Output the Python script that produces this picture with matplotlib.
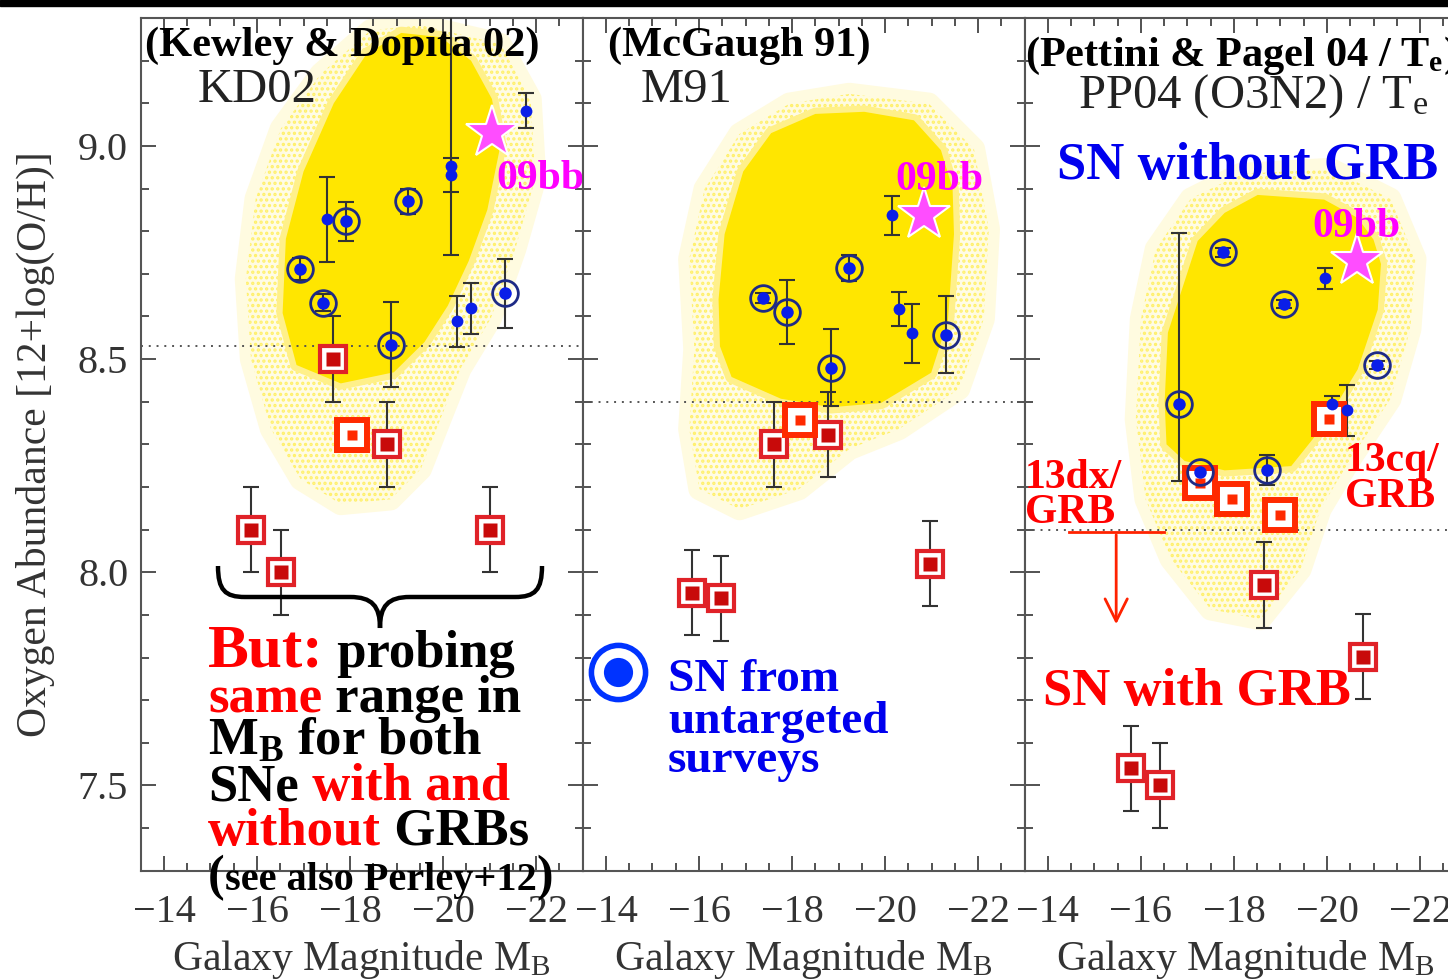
import numpy as np
import matplotlib
matplotlib.use("Agg")
import matplotlib.pyplot as plt
from matplotlib.patches import Polygon, PathPatch, Rectangle
from matplotlib.path import Path
from matplotlib.ticker import MultipleLocator

plt.rcParams['font.family'] = ['Liberation Serif', 'DejaVu Serif']
plt.rcParams['mathtext.fontset'] = 'custom'
plt.rcParams['mathtext.rm'] = 'Liberation Serif'
plt.rcParams['mathtext.bf'] = 'Liberation Serif:bold'
plt.rcParams['mathtext.it'] = 'Liberation Serif:italic'
plt.rcParams['hatch.linewidth'] = 1.6

# --- KD02 panel ---
kd_circ_x = [-19.25, -17.91, -16.92, -17.41, -18.87, -21.32]
kd_circ_y = [8.87, 8.823, 8.711, 8.632, 8.534, 8.654]
kd_circ_err = [0.03, 0.045, 0.025, 0.02, 0.10, 0.08]
kd_dot_x = [-21.79, -20.16, -20.16, -17.51, -20.30, -20.60]
kd_dot_y = [9.083, 8.953, 8.931, 8.828, 8.589, 8.619]
kd_dot_lo = [0.04, 0.21, 0.04, 0.10, 0.06, 0.06]
kd_dot_hi = [0.04, 0.40, 0.04, 0.10, 0.06, 0.06]
kd_grb_x = [-17.63, -18.80, -15.87, -16.51, -21.00]
kd_grb_y = [8.50, 8.30, 8.10, 8.00, 8.10]
kd_grb_err = [0.10, 0.10, 0.10, 0.10, 0.10]
kd_new_x = [-18.05]
kd_new_y = [8.322]
kd_star = (-21.05, 9.03)
kd_cut = 8.53
kd_core_x = [-19.10, -19.95, -20.60, -21.05, -21.23, -20.95, -20.55, -20.10, -19.60,
             -18.94, -17.80, -16.85, -16.55, -16.62, -17.00, -17.65, -18.35]
kd_core_y = [9.265, 9.255, 9.200, 9.110, 9.000, 8.850, 8.730, 8.625, 8.540,
             8.469, 8.443, 8.486, 8.608, 8.782, 8.940, 9.100, 9.215]
kd_halo_x = [-19.52, -21.23, -21.88, -21.98, -21.55, -21.02, -20.37, -19.94, -19.52,
             -18.87, -17.80, -16.94, -16.30, -15.87, -15.76, -15.97, -16.51, -17.37, -18.44]
kd_halo_y = [9.283, 9.239, 9.110, 8.923, 8.758, 8.594, 8.477, 8.359, 8.242,
             8.171, 8.160, 8.218, 8.336, 8.500, 8.688, 8.876, 9.040, 9.169, 9.271]

# --- M91 panel ---
m_circ_x = [-19.23, -17.38, -17.89, -18.84, -21.31]
m_circ_y = [8.714, 8.643, 8.611, 8.480, 8.557]
m_circ_err = [0.03, 0.012, 0.075, 0.09, 0.09]
m_dot_x = [-20.14, -20.29, -20.58]
m_dot_y = [8.837, 8.618, 8.560]
m_dot_err = [0.045, 0.04, 0.07]
m_grb_x = [-17.62, -18.78, -15.84, -16.48, -20.97]
m_grb_y = [8.300, 8.323, 7.952, 7.939, 8.020]
m_grb_err = [0.10, 0.10, 0.10, 0.10, 0.10]
m_new_x = [-18.16]
m_new_y = [8.358]
m_star = (-20.83, 8.837)
m_cut = 8.40
m_core_x = [-19.55, -20.62, -21.20, -21.45, -21.48, -21.35, -20.99, -19.91, -18.84,
            -17.76, -16.70, -16.45, -16.42, -16.55, -16.95, -17.55, -18.50]
m_core_y = [9.080, 9.060, 8.990, 8.900, 8.793, 8.590, 8.468, 8.397, 8.387,
            8.407, 8.458, 8.530, 8.640, 8.793, 8.940, 9.030, 9.075]
m_halo_x = [-19.23, -20.94, -21.91, -22.23, -22.12, -21.59, -20.30, -19.23, -18.15,
            -16.87, -16.01, -15.79, -15.90, -15.79, -16.12, -16.87, -17.94]
m_halo_y = [9.122, 9.099, 8.993, 8.805, 8.594, 8.430, 8.336, 8.289, 8.195,
            8.148, 8.195, 8.336, 8.523, 8.735, 8.899, 9.028, 9.099]

# --- PP04 panel ---
p_circ_x = [-16.81, -17.76, -19.07, -21.07, -17.28, -18.70]
p_circ_y = [8.395, 8.750, 8.629, 8.486, 8.234, 8.239]
p_circ_lo = [0.18, 0.01, 0.01, 0.01, 0.01, 0.035]
p_circ_hi = [0.40, 0.01, 0.01, 0.01, 0.01, 0.035]
p_dot_x = [-19.96, -20.11, -20.43]
p_dot_y = [8.689, 8.394, 8.380]
p_dot_err = [0.025, 0.02, 0.06]
p_grb_x = [-18.64, -20.77, -15.78, -16.40]
p_grb_y = [7.970, 7.802, 7.540, 7.500]
p_grb_err = [0.10, 0.10, 0.10, 0.10]
p_new_x = [-17.28, -17.96, -18.99, -20.04]
p_new_y = [8.209, 8.171, 8.134, 8.359]
p_star = (-20.64, 8.729)
p_cut = 8.10
p_core_x = [-18.51, -19.94, -20.66, -21.00, -21.16, -21.09, -20.66, -19.94, -19.23,
            -17.80, -16.94, -16.55, -16.51, -16.58, -17.22, -17.80]
p_core_y = [8.885, 8.874, 8.831, 8.780, 8.723, 8.616, 8.476, 8.346, 8.249,
            8.239, 8.261, 8.300, 8.400, 8.562, 8.777, 8.843]
p_halo_x = [-18.14, -20.07, -21.36, -21.90, -21.79, -21.36, -20.50, -19.86, -19.43,
            -18.57, -17.50, -16.64, -16.10, -15.89, -16.00, -16.32, -17.07]
p_halo_y = [8.934, 8.946, 8.876, 8.735, 8.570, 8.406, 8.265, 8.148, 8.007,
            7.890, 7.913, 8.031, 8.171, 8.359, 8.594, 8.758, 8.876]

panels = [
    dict(circ=(kd_circ_x, kd_circ_y, kd_circ_err, kd_circ_err),
         dot=(kd_dot_x, kd_dot_y, kd_dot_lo, kd_dot_hi),
         grb=(kd_grb_x, kd_grb_y, kd_grb_err), new=(kd_new_x, kd_new_y),
         star=kd_star, cut=kd_cut, core=(kd_core_x, kd_core_y), halo=(kd_halo_x, kd_halo_y),
         ref='(Kewley & Dopita 02)', ref_xy=(0.01, 0.968),
         name='KD02', name_xy=(0.128, 0.9156), label_xy=(-21.15, 8.923)),
    dict(circ=(m_circ_x, m_circ_y, m_circ_err, m_circ_err),
         dot=(m_dot_x, m_dot_y, m_dot_err, m_dot_err),
         grb=(m_grb_x, m_grb_y, m_grb_err), new=(m_new_x, m_new_y),
         star=m_star, cut=m_cut, core=(m_core_x, m_core_y), halo=(m_halo_x, m_halo_y),
         ref='(McGaugh 91)', ref_xy=(0.057, 0.968),
         name='M91', name_xy=(0.130, 0.9156), label_xy=(-20.21, 8.92)),
    dict(circ=(p_circ_x, p_circ_y, p_circ_lo, p_circ_hi),
         dot=(p_dot_x, p_dot_y, p_dot_err, p_dot_err),
         grb=(p_grb_x, p_grb_y, p_grb_err), new=(p_new_x, p_new_y),
         star=p_star, cut=p_cut, core=(p_core_x, p_core_y), halo=(p_halo_x, p_halo_y),
         ref=r'(Pettini & Pagel 04 / T$_\mathbf{e}$)', ref_xy=(0.001, 0.956),
         name=r'PP04 (O3N2) / T$_{\rm e}$', name_xy=(0.121, 0.908), label_xy=(-19.69, 8.81)),
]

W, H = 1448, 980
fig = plt.figure(figsize=(W / 100, H / 100), dpi=100)
fig.patches.append(Rectangle((0, 1 - 6 / H), 1, 6 / H, transform=fig.transFigure,
                             color='black', zorder=10))

ax_w, ax_h = 442 / W, 852.7 / H
ax_b = (H - 870.7) / H
lefts = [140.7 / W, 582.7 / W, 1024.6 / W]
axes = [fig.add_axes([l, ax_b, ax_w, ax_h]) for l in lefts]

BLUE_RING = '#1e2a86'
BLUE_DOT = '#0a1ee8'
ERR = '#333333'
YEL = '#ffe600'

for ax, p in zip(axes, panels):
    ax.set_xlim(-13.5, -23)
    ax.set_ylim(7.3, 9.3)

    # galaxy comparison sample: stippled outskirts around a dense core
    halo = np.column_stack(p['halo'])
    core = np.column_stack(p['core'])
    ax.add_patch(Polygon(halo, closed=True, fc='#fffce6', ec='#fffbe0', lw=16,
                         joinstyle='round', zorder=1))
    ax.add_patch(Polygon(halo, closed=True, fc='none', ec='#fff06a', lw=0,
                         hatch='...', zorder=1.05))
    ax.add_patch(Polygon(core, closed=True, fc='none', ec='#ffe94a', lw=0,
                         hatch='.......', zorder=1.1))
    ax.add_patch(Polygon(core, closed=True, fc=YEL, ec='#fff08a', lw=9,
                         joinstyle='round', zorder=1.15))
    ax.add_patch(Polygon(core, closed=True, fc=YEL, ec=YEL, lw=0, zorder=1.2))

    ax.axhline(p['cut'], color='#555555', ls=(0, (1, 3)), lw=1.4, zorder=2)

    cx, cy, clo, chi = p['circ']
    dx, dy, dlo, dhi = p['dot']
    gx, gy, gerr = p['grb']
    for x, y, lo, hi in [(cx, cy, clo, chi), (dx, dy, dlo, dhi), (gx, gy, gerr, gerr)]:
        ax.errorbar(x, y, yerr=[lo, hi], fmt='none', ecolor=ERR, elinewidth=1.5,
                    capsize=6, capthick=1.5, zorder=3)

    ax.plot(gx, gy, ls='none', marker='s', ms=19, mfc='white', mec='#e02228', mew=3, zorder=4)
    ax.plot(gx, gy, ls='none', marker='s', ms=9.5, mfc='#c80a0a', mec='none', zorder=4.1)

    nx, ny = p['new']
    ax.plot(nx, ny, ls='none', marker='s', ms=21, mfc='white', mec='#ff2a00', mew=4.3, zorder=4.2)
    ax.plot(nx, ny, ls='none', marker='s', ms=7, mfc='#ff2a00', mec='none', zorder=4.3)

    ax.plot(cx, cy, ls='none', marker='o', ms=18.5, mfc='none', mec=BLUE_RING, mew=2, zorder=5)
    ax.plot(cx, cy, ls='none', marker='o', ms=9, mfc=BLUE_DOT, mec='none', zorder=5.1)
    ax.plot(dx, dy, ls='none', marker='o', ms=8.5, mfc=BLUE_DOT, mec='none', zorder=5.1)

    sx, sy = p['star']
    ax.plot(sx, sy, ls='none', marker='*', ms=40, mfc='#ff4dff', mec='white', mew=1.5, zorder=6)
    ax.text(*p['label_xy'], '09bb', color='#ff00ff', fontsize=30, fontweight='bold',
            ha='left', va='center', clip_on=False, zorder=7)

    ax.text(*p['ref_xy'], p['ref'], transform=ax.transAxes, fontsize=30.5,
            fontweight='bold', ha='left', va='center', zorder=7)
    ax.text(*p['name_xy'], p['name'], transform=ax.transAxes, fontsize=35,
            color='#222222', ha='left', va='center', zorder=7)

    ax.xaxis.set_major_locator(MultipleLocator(2))
    ax.xaxis.set_minor_locator(MultipleLocator(0.5))
    ax.yaxis.set_major_locator(MultipleLocator(0.5))
    ax.yaxis.set_minor_locator(MultipleLocator(0.1))
    ax.tick_params(which='both', direction='in', top=True, right=True, color='#444444', width=1.3)
    ax.tick_params(which='major', length=11)
    ax.tick_params(which='minor', length=6)
    ax.tick_params(axis='both', labelsize=29, labelcolor='#333333')
    ax.tick_params(axis='x', pad=17)
    ax.tick_params(axis='y', pad=9)
    for s in ax.spines.values():
        s.set_color('#555555')
        s.set_linewidth(1.5)
    ax.set_xlabel(r'Galaxy Magnitude M$_{\rm B}$', fontsize=30, color='#333333')
    ax.xaxis.set_label_coords(0.5, -0.079)

for ax in axes[1:]:
    ax.tick_params(labelleft=False)

axes[0].set_ylabel('Oxygen Abundance [12+log(O/H)]', fontsize=30, color='#333333')
axes[0].yaxis.set_label_coords(-0.195, 0.5)

renderer = fig.canvas.get_renderer()


def text_run(ax, x, y, pieces):
    for s, color, size in pieces:
        t = ax.text(x, y, s, color=color, fontsize=size, fontweight='bold',
                    transform=ax.transAxes, ha='left', va='baseline', clip_on=False, zorder=8)
        bb = t.get_window_extent(renderer)
        x = ax.transAxes.inverted().transform((bb.x1, bb.y0))[0]


RED = '#ff0000'
BLK = 'black'
a1 = axes[0]
text_run(a1, 0.152, 0.2389, [('But:', RED, 44), (' probing', BLK, 38)])
text_run(a1, 0.152, 0.1861, [('same', RED, 38), (' range in', BLK, 38)])
text_run(a1, 0.152, 0.1357, [(r'M$_\mathbf{B}$ for both', BLK, 38)])
text_run(a1, 0.152, 0.0829, [('SNe', BLK, 38), (' with and', RED, 38)])
text_run(a1, 0.152, 0.0302, [('without', RED, 38), (' GRBs', BLK, 38)])
text_run(a1, 0.152, -0.0225, [('(', BLK, 36), ('see also Perley+12', BLK, 29), (')', BLK, 36)])

# curly brace over the GRB hosts
bx = lambda px: (px - 140.7) / 442
by = lambda py: (870.7 - py) / 852.7
brace = [((218, 566), Path.MOVETO), ((218, 590), Path.CURVE4), ((225, 597), Path.CURVE4),
         ((245, 597), Path.CURVE4), ((350, 597), Path.LINETO), ((372, 597), Path.CURVE4),
         ((380, 606), Path.CURVE4), ((380, 628), Path.CURVE4), ((380, 606), Path.CURVE4),
         ((388, 597), Path.CURVE4), ((410, 597), Path.CURVE4), ((515, 597), Path.LINETO),
         ((535, 597), Path.CURVE4), ((542, 590), Path.CURVE4), ((542, 566), Path.CURVE4)]
verts = [(bx(v[0]), by(v[1])) for v, _ in brace]
codes = [c for _, c in brace]
a1.add_patch(PathPatch(Path(verts, codes), fc='none', ec='black', lw=3.2,
                       transform=a1.transAxes, zorder=8, clip_on=False))

# legend for the untargeted-survey SNe
a2 = axes[1]
a2.plot([0.080], [0.233], transform=a2.transAxes, ls='none', marker='o', ms=39,
        mfc='white', mec='#0033ff', mew=4, clip_on=False, zorder=8)
a2.plot([0.080], [0.233], transform=a2.transAxes, ls='none', marker='o', ms=21,
        mfc='#0033ff', mec='none', clip_on=False, zorder=8.1)
for txt, yy in [('SN from', 0.2235), ('untargeted', 0.1743), ('surveys', 0.1284)]:
    a2.text(0.193, yy, txt, transform=a2.transAxes, color='#0000ee', fontsize=34,
            fontweight='bold', ha='left', va='center', zorder=8)

a3 = axes[2]
a3.text(0.0733, 0.8264, 'SN without GRB', transform=a3.transAxes, color='#0000ee',
        fontsize=38, fontweight='bold', ha='left', va='center', zorder=8)
a3.text(0.0416, 0.2096, 'SN with GRB', transform=a3.transAxes, color='#ff0000',
        fontsize=38, fontweight='bold', ha='left', va='center', zorder=8)
for txt, xx, yy in [('13dx/', 0.001, 0.460), ('GRB', 0.001, 0.420),
                    ('13cq/', 0.725, 0.480), ('GRB', 0.725, 0.438)]:
    a3.text(xx, yy, txt, transform=a3.transAxes, color='#ff0000', fontsize=30,
            fontweight='bold', ha='left', va='center', zorder=8)
a3.plot([0.1006, 0.3155], [0.3972, 0.3972], transform=a3.transAxes, color='#ff2200',
        lw=2, zorder=8)
a3.annotate('', xy=(0.2072, 0.2858), xytext=(0.2072, 0.3972), xycoords='axes fraction',
            arrowprops=dict(arrowstyle='->', color='#ff2200', lw=2, mutation_scale=40),
            zorder=8)

fig.savefig('out.png', dpi=100)
